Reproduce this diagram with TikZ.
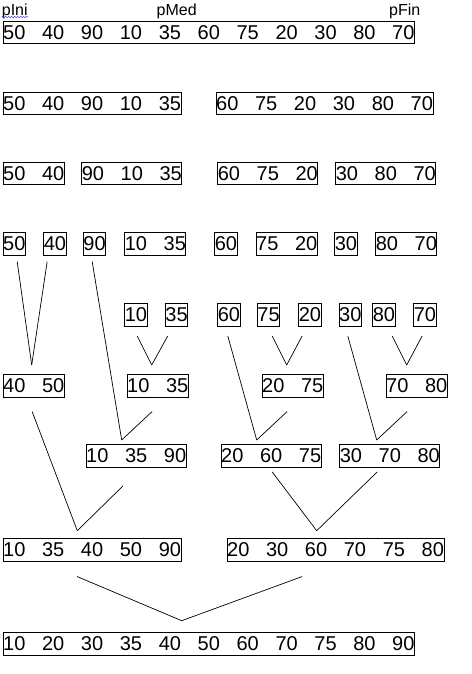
\documentclass[tikz,border=0pt]{standalone}
\usepackage{fontspec}
\setmainfont{Liberation Sans}
\usetikzlibrary{decorations.pathmorphing}

\tikzset{
  arr/.style={draw, line width=0.9pt, inner sep=0pt, anchor=north west,
    font=\fontsize{20}{24}\selectfont, text height=18.1pt, text depth=4.24pt},
  lbl/.style={inner sep=0pt, anchor=base west, font=\fontsize{16}{19}\selectfont},
  link/.style={line width=0.7pt}
}

\begin{document}
\begin{tikzpicture}[x=1pt, y=-1pt]
    \useasboundingbox (0,0) rectangle (471,674);

    % Pointers
    \node[lbl] (pini) at (1.7,16) {pIni};
    \node[lbl] (pmed) at (156.5,16) {pMed};
    \node[lbl] (pfin) at (389,16) {pFin};
    \draw[blue!75, line width=0.5pt, decorate,
      decoration={snake, amplitude=0.8pt, segment length=3pt}]
      ([yshift=-1pt]pini.base west) -- ([yshift=-1pt]pini.base east);

    % Original array
    \node[arr] (r1) at (2.7,21) {50~~~40~~~90~~~10~~~35~~~60~~~75~~~20~~~30~~~80~~~70};

    % Split 1
    \node[arr] (r2a) at (2.7,91.7) {50~~~40~~~90~~~10~~~35};
    \node[arr] (r2b) at (215.7,91.7) {60~~~75~~~20~~~30~~~80~~~70};

    % Split 2
    \node[arr] (r3a) at (2.7,161.7) {50~~~40};
    \node[arr] (r3b) at (81.3,161.7) {90~~~10~~~35};
    \node[arr] (r3c) at (217.3,161.7) {60~~~75~~~20};
    \node[arr] (r3d) at (335.3,161.7) {30~~~80~~~70};

    % Split 3
    \node[arr] (r4a) at (2.7,232.3) {50};
    \node[arr] (r4b) at (43.3,232.3) {40};
    \node[arr] (r4c) at (83,232.3) {90};
    \node[arr] (r4d) at (124.3,232.3) {10~~~35};
    \node[arr] (r4e) at (214.3,232.3) {60};
    \node[arr] (r4f) at (255.7,232.3) {75~~~20};
    \node[arr] (r4g) at (334.3,232.3) {30};
    \node[arr] (r4h) at (375.3,232.3) {80~~~70};

    % Split 4
    \node[arr] (r5a) at (124.3,303.3) {10};
    \node[arr] (r5b) at (165,303.3) {35};
    \node[arr] (r5c) at (217.3,303.3) {60};
    \node[arr] (r5d) at (257,303.3) {75};
    \node[arr] (r5e) at (298.3,303.3) {20};
    \node[arr] (r5f) at (338.7,303.3) {30};
    \node[arr] (r5g) at (372.3,303.3) {80};
    \node[arr] (r5h) at (413.3,303.3) {70};

    % Merge 1
    \node[arr] (m1a) at (2.7,374.3) {40~~~50};
    \node[arr] (m1b) at (126.7,374.3) {10~~~35};
    \node[arr] (m1c) at (261.7,374.3) {20~~~75};
    \node[arr] (m1d) at (385.7,374.3) {70~~~80};

    % Merge 2
    \node[arr] (m2a) at (85.7,444.3) {10~~~35~~~90};
    \node[arr] (m2b) at (220.7,444.3) {20~~~60~~~75};
    \node[arr] (m2c) at (339.3,444.3) {30~~~70~~~80};

    % Merge 3
    \node[arr] (m3a) at (2.7,538.3) {10~~~35~~~40~~~50~~~90};
    \node[arr] (m3b) at (226.7,538.3) {20~~~30~~~60~~~70~~~75~~~80};

    % Sorted array
    \node[arr] (m4) at (2.7,632.3) {10~~~20~~~30~~~35~~~40~~~50~~~60~~~70~~~75~~~80~~~90};

    % Meeting points
    \coordinate (v1a) at (31.7,365);
    \coordinate (v1b) at (151.7,365);
    \coordinate (v1c) at (286.7,365);
    \coordinate (v1d) at (406.7,365);
    \coordinate (v2a) at (121.7,440);
    \coordinate (v2b) at (256.7,440);
    \coordinate (v2c) at (376.7,440);
    \coordinate (v3a) at (77.3,530.7);
    \coordinate (v3b) at (316.7,530.7);
    \coordinate (v4) at (181.7,620.7);

    % Lines
    \draw[link] ([shift={(2.9,6)}]r4a.south) -- (v1a);
    \draw[link] ([shift={(-7.7,6)}]r4b.south) -- (v1a);
    \draw[link] ([shift={(-2.4,6)}]r4c.south) -- (v2a);
    \draw[link] ([shift={(1.3,9.4)}]r5a.south) -- (v1b);
    \draw[link] ([shift={(-8.8,9.4)}]r5b.south) -- (v1b);
    \draw[link] ([shift={(-1.1,9.4)}]r5c.south) -- (v2b);
    \draw[link] ([shift={(3.6,9.4)}]r5d.south) -- (v1c);
    \draw[link] ([shift={(-7.7,9.4)}]r5e.south) -- (v1c);
    \draw[link] ([shift={(-2.5,9.4)}]r5f.south) -- (v2c);
    \draw[link] ([shift={(8.3,9.4)}]r5g.south) -- (v1d);
    \draw[link] ([shift={(-2.7,9.4)}]r5h.south) -- (v1d);
    \draw[link] ([shift={(-1.6,14)}]m1a.south) -- (v3a);
    \draw[link] ([shift={(-5.6,14)}]m1b.south) -- (v2a);
    \draw[link] ([shift={(-5.6,14)}]m1c.south) -- (v2b);
    \draw[link] ([shift={(-9.6,14)}]m1d.south) -- (v2c);
    \draw[link] ([shift={(-13.2,18.4)}]m2a.south) -- (v3a);
    \draw[link] ([shift={(1,4.4)}]m2b.south) -- (v3b);
    \draw[link] ([shift={(-12.6,4.4)}]m2c.south) -- (v3b);
    \draw[link] ([shift={(-15,15)}]m3a.south) -- (v4);
    \draw[link] ([shift={(-33.4,15)}]m3b.south) -- (v4);
\end{tikzpicture}
\end{document}
